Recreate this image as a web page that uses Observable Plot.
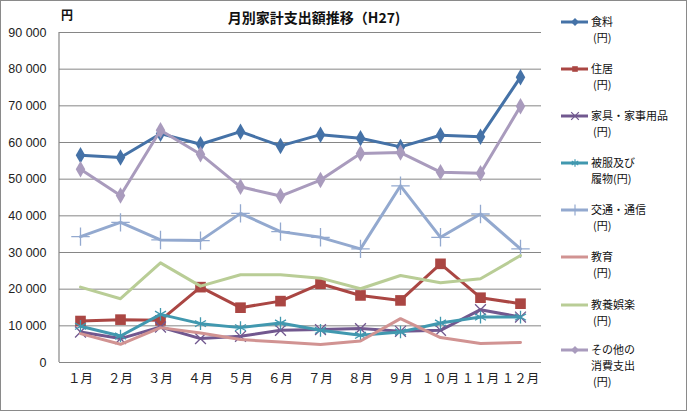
<!DOCTYPE html>
<html><head><meta charset="utf-8">
<script src="https://cdn.jsdelivr.net/npm/d3@7"></script>
<script src="https://cdn.jsdelivr.net/npm/@observablehq/plot@0.6"></script>
<style>
body{margin:0;background:#fff;}
#wrap{position:relative;width:687px;height:411px;}
#frame{position:absolute;left:0;top:0;width:685px;height:409px;border:1px solid #8a8a8a;pointer-events:none;}
</style>
</head><body>
<div id="wrap"><div id="frame"></div></div>
<script>
const months = ["１月","２月","３月","４月","５月","６月","７月","８月","９月","１０月","１１月","１２月"];
const yTicks = [0,10000,20000,30000,40000,50000,60000,70000,80000,90000];
const names = ["食料","住居","家具・家事用品","被服及び履物","交通・通信","教育","教養娯楽","その他の消費支出"];
const legendLabels = [["食料","(円)"],["住居","(円)"],["家具・家事用品","(円)"],["被服及び","履物(円)"],["交通・通信","(円)"],["教育","(円)"],["教養娯楽","(円)"],["その他の","消費支出","(円)"]];
const food      = [56540,55890,62410,59530,62950,59070,62140,61160,58800,61970,61600,77820];
const housing   = [11310,11690,11500,20550,14950,16740,21470,18290,16930,26910,17670,16040];
const furniture = [8320,6520,9680,6520,7150,8780,8970,9240,8510,8780,14410,12390];
const clothing  = [9870,7230,13130,10600,9510,10760,8780,7420,8320,10760,12390,12390];
const transport = [34330,38220,33430,33240,40670,35690,34140,30990,48190,34140,40500,30990];
const education = [7880,4970,9510,8050,6250,5600,4890,5870,11960,6800,5160,5440];
const culture   = [20550,17400,27180,20820,23920,23920,23000,20110,23730,21750,22830,29170];
const other     = [52730,45560,63330,56810,47920,45390,49740,56970,57240,51920,51640,69860];

const seriesVals = [food,housing,furniture,clothing,transport,education,culture,other];
const colors = ["#4572A7","#AA4643","#71588F","#4198AF","#93A9CF","#D19392","#B9CD96","#A99BBD"];
const symbols = ["diamond","square","times","asterisk","plus",null,null,"diamond"];
const symFilled = [true,true,false,false,false,false,false,true];
const symSize = [5,6,5,6,6,0,0,5];

const data = [];
seriesVals.forEach((vals,si)=>vals.forEach((v,i)=>data.push({s:si, name:names[si], month:months[i], value:v})));

const fmt = d => d===0 ? "0" : d3.format(",")(d).replace(/,/g," ");

const marks = [
  Plot.gridY(yTicks, {stroke:"#868686", strokeOpacity:1, strokeWidth:1}),
  Plot.axisY(yTicks, {tickSize:0, tickPadding:13, tickFormat:fmt, fontSize:12.5, fontFamily:"Liberation Sans, Arial, sans-serif", fill:"#222", label:null}),
  Plot.axisX({tickSize:0, tickPadding:12, fontSize:12.5, fontFamily:"Noto Sans CJK JP, sans-serif", fill:"#222", label:null})
];
seriesVals.forEach((vals,si)=>{
  const d = data.filter(r=>r.s===si);
  marks.push(Plot.lineY(d, {x:"month", y:"value", stroke:colors[si], strokeWidth:3}));
  if (symbols[si]) {
    if (symFilled[si]) marks.push(Plot.dot(d, {x:"month", y:"value", symbol:symbols[si], fill:colors[si], r:symSize[si]}));
    else marks.push(Plot.dot(d, {x:"month", y:"value", symbol:symbols[si], stroke:colors[si], strokeWidth:1.3, r:symSize[si]}));
  }
});

const plot = Plot.plot({
  width:687, height:411,
  marginLeft:59, marginRight:146, marginTop:32, marginBottom:49,
  x:{type:"point", domain:months, padding:0.5},
  y:{domain:[0,90000]},
  style:{background:"transparent", overflow:"visible"},
  marks
});
document.getElementById("wrap").prepend(plot);

const svg = d3.select(plot);
const ys = plot.scale("y");
// left axis line
svg.append("line").attr("x1",59).attr("x2",59).attr("y1",ys.apply(90000)).attr("y2",ys.apply(0)).attr("stroke","#868686").attr("stroke-width",1.2);
// title and unit
svg.append("text").attr("x",314).attr("y",23).attr("text-anchor","middle").attr("font-family","Noto Sans CJK JP, sans-serif").attr("font-weight","bold").attr("font-size",14).attr("fill","#111").text("月別家計支出額推移（H27)");
svg.append("text").attr("x",61).attr("y",20).attr("text-anchor","start").attr("font-family","Noto Sans CJK JP, sans-serif").attr("font-weight","bold").attr("font-size",12).attr("fill","#111").text("円");

// legend
const legTop = [22,69,116,163,210,257,305,350];
const symMap = {diamond:d3.symbolDiamond2, square:d3.symbolSquare2, times:d3.symbolTimes, asterisk:d3.symbolAsterisk, plus:d3.symbolPlus};
const lg = svg.append("g").attr("font-family","Noto Sans CJK JP, sans-serif").attr("font-size",11).attr("fill","#111").attr("text-anchor","start");
legendLabels.forEach((lines,si)=>{
  const y = legTop[si];
  lg.append("line").attr("x1",561).attr("x2",588).attr("y1",y).attr("y2",y).attr("stroke",colors[si]).attr("stroke-width",3);
  if (symbols[si]) {
    const p = d3.symbol(symMap[symbols[si]], 40)();
    const s = lg.append("path").attr("d",p).attr("transform",`translate(575,${y})`);
    if (symFilled[si]) s.attr("fill",colors[si]); else s.attr("fill","none").attr("stroke",colors[si]).attr("stroke-width",1.2);
  }
  const t = lg.append("text").attr("y", y + 4).attr("text-anchor","start");
  lines.forEach((line,li)=>{
    t.append("tspan").attr("x", line==="(円)" ? 593 : 591).attr("dy", li===0 ? 0 : 16).text(line);
  });
});
</script>
</body></html>
